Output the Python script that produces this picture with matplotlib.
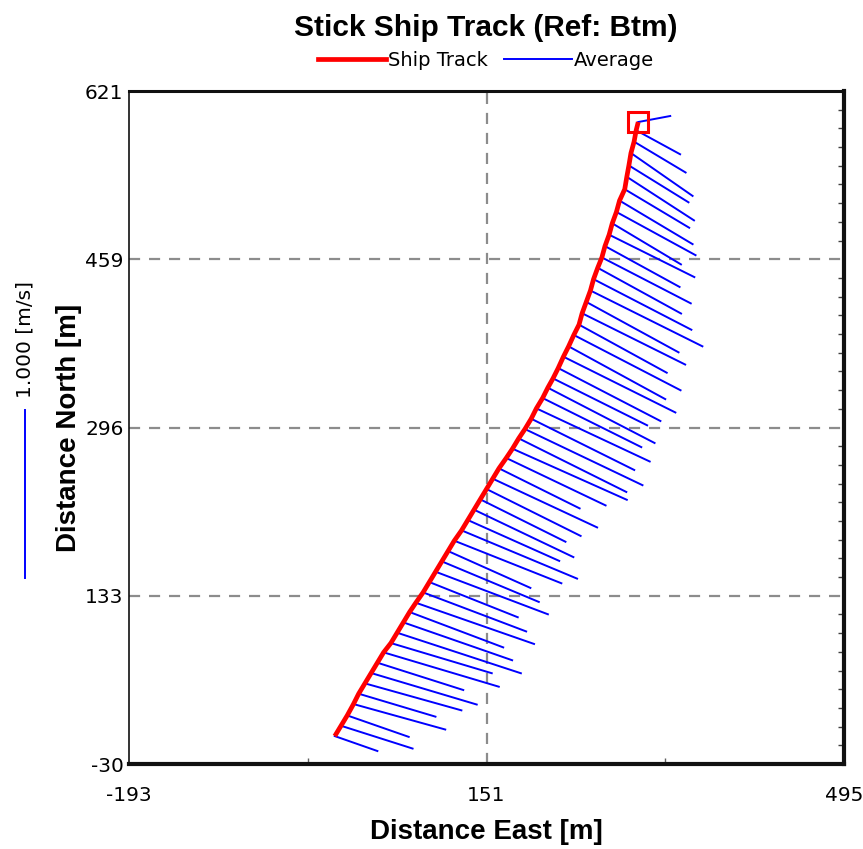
import numpy as np
import matplotlib
matplotlib.use("Agg")
from matplotlib import pyplot as plt
from matplotlib.lines import Line2D

# Ship track positions (m), bottom reference, first ensemble -> last
track_east = [
    5, 11, 17, 23, 28, 34, 40, 46, 52, 59, 65, 71, 77, 83, 90, 96, 102, 108,
    114, 120, 127, 133, 139, 145, 151, 157, 163, 170, 176, 182, 188, 194, 199,
    205, 210, 215, 220, 225, 230, 235, 240, 243, 247, 251, 254, 258, 262, 265,
    269, 272, 276, 279, 284, 286, 288, 290, 293, 295, 297,
]
track_north = [
    -3, 7, 17, 28, 38, 48, 58, 68, 78, 87, 97, 107, 117, 126, 136, 146, 156,
    166, 176, 186, 196, 206, 216, 226, 236, 246, 256, 266, 275, 285, 294, 304,
    314, 324, 334, 343, 353, 364, 374, 385, 395, 406, 417, 428, 439, 450, 460,
    471, 482, 493, 504, 515, 526, 538, 549, 561, 572, 583, 591,
]

# Depth averaged velocity per ensemble (m/s)
vel_east = [
    .253, .425, .365, .545, .456, .573, .627, .510, .684, .599, .735, .646,
    .556, .702, .612, .525, .667, .576, .489, .636, .686, .543, .590, .506,
    .559, .620, .479, .590, .679, .639, .698, .612, .673, .586, .634, .559,
    .607, .665, .574, .634, .521, .612, .548, .665, .581, .495, .528, .443,
    .506, .408, .470, .434, .383, .399, .354, .366, .306, .261, .190,
]
vel_north = [
    -.089, -.136, -.128, -.152, -.137, -.161, -.188, -.163, -.205, -.180,
    -.242, -.226, -.211, -.246, -.233, -.210, -.254, -.242, -.220, -.254,
    -.288, -.244, -.283, -.253, -.280, -.291, -.239, -.283, -.305, -.320,
    -.335, -.306, -.317, -.293, -.330, -.280, -.316, -.333, -.315, -.330,
    -.287, -.306, -.301, -.333, -.302, -.273, -.274, -.244, -.253, -.245,
    -.258, -.260, -.230, -.260, -.220, -.256, -.184, -.143, .036,
]

X_LIM = (-193, 495)
Y_LIM = (-30, 621)
X_TICKS = [-193, 151, 495]
Y_TICKS = [-30, 132.75, 295.5, 458.25, 621]
Y_TICK_LABELS = ["-30", "133", "296", "459", "621"]
STICK_SCALE = 162.0  # metres drawn per 1 m/s

BOLD = ["Liberation Sans", "DejaVu Sans"]
PLAIN = ["DejaVu Sans"]

fig = plt.figure(figsize=(8.63, 8.49), dpi=100)
ax = fig.add_axes([0.1495, 0.1001, 0.8285, 0.7927])

# sticks
te = np.array(track_east, dtype=float)
tn = np.array(track_north, dtype=float)
ve = np.array(vel_east)
vn = np.array(vel_north)
for x0, y0, u, v in zip(te, tn, ve, vn):
    ax.plot([x0, x0 + u * STICK_SCALE], [y0, y0 + v * STICK_SCALE],
            color="#0000ff", lw=1.4, zorder=3)

# ship track
ax.plot(te, tn, color="#ff0000", lw=3.4, zorder=4, solid_capstyle="butt")
ax.plot(te[-1:], tn[-1:], marker="s", ms=15, mfc="none", mec="#ff0000",
        mew=2.2, zorder=5, ls="none")

ax.set_xlim(*X_LIM)
ax.set_ylim(*Y_LIM)
ax.set_xticks(X_TICKS)
ax.set_xticklabels([str(t) for t in X_TICKS])
ax.set_yticks(Y_TICKS)
ax.set_yticklabels(Y_TICK_LABELS)
ax.tick_params(axis="both", which="major", length=0, labelsize=14.5)
ax.tick_params(axis="x", which="major", pad=16)
ax.tick_params(axis="y", which="major", pad=4)
for lab in ax.get_xticklabels() + ax.get_yticklabels():
    lab.set_family(PLAIN)

# minor tick marks inside the box
ax.set_xticks([-21, 151, 323], minor=True)
ax.set_yticks(np.linspace(Y_LIM[0], Y_LIM[1], 37), minor=True)
ax.tick_params(axis="x", which="minor", direction="in", length=4,
               width=1, color="#606060")
ax.tick_params(axis="y", which="minor", direction="in", length=4,
               width=1, color="#404040", left=False, right=True)

# dashed grid
for gy in Y_TICKS[1:-1]:
    ax.axhline(gy, color="#8c8c8c", lw=1.6, ls=(0, (5, 4)), zorder=1)
ax.axvline(X_TICKS[1], color="#8c8c8c", lw=1.6, ls=(0, (5, 4)), zorder=1)

for side, w in (("left", 1.2), ("top", 2.2), ("right", 3.0), ("bottom", 3.0)):
    ax.spines[side].set_linewidth(w)
    ax.spines[side].set_color("#111111")

ax.set_xlabel("Distance East [m]", family=BOLD, fontweight="bold",
              fontsize=20, labelpad=10)
ax.set_ylabel("Distance North [m]", family=BOLD, fontweight="bold",
              fontsize=20, labelpad=2)

fig.text(0.5625, 0.967, "Stick Ship Track (Ref: Btm)", family=BOLD,
         fontweight="bold", fontsize=21.5, ha="center", va="center")

handles = [Line2D([], [], color="#ff0000", lw=3.4),
           Line2D([], [], color="#0000ff", lw=1.4)]
fig.legend(handles, ["Ship Track", "Average"], loc="center",
           bbox_to_anchor=(0.563, 0.929), ncol=2, frameon=False,
           prop={"family": PLAIN, "size": 14}, handlelength=3.5,
           handletextpad=0.1, columnspacing=0.8)

# velocity scale bar (1 m/s) left of the axis
bar_x = -293
bar_y0 = 150
ax.plot([bar_x, bar_x], [bar_y0, bar_y0 + 1.0 * STICK_SCALE], color="#0000ff",
        lw=1.4, clip_on=False)
ax.text(bar_x, bar_y0 + STICK_SCALE + 12, "1.000 [m/s]", rotation=90,
        ha="center", va="bottom", fontsize=14.5, family=PLAIN)

fig.savefig("out.png", dpi=100)
